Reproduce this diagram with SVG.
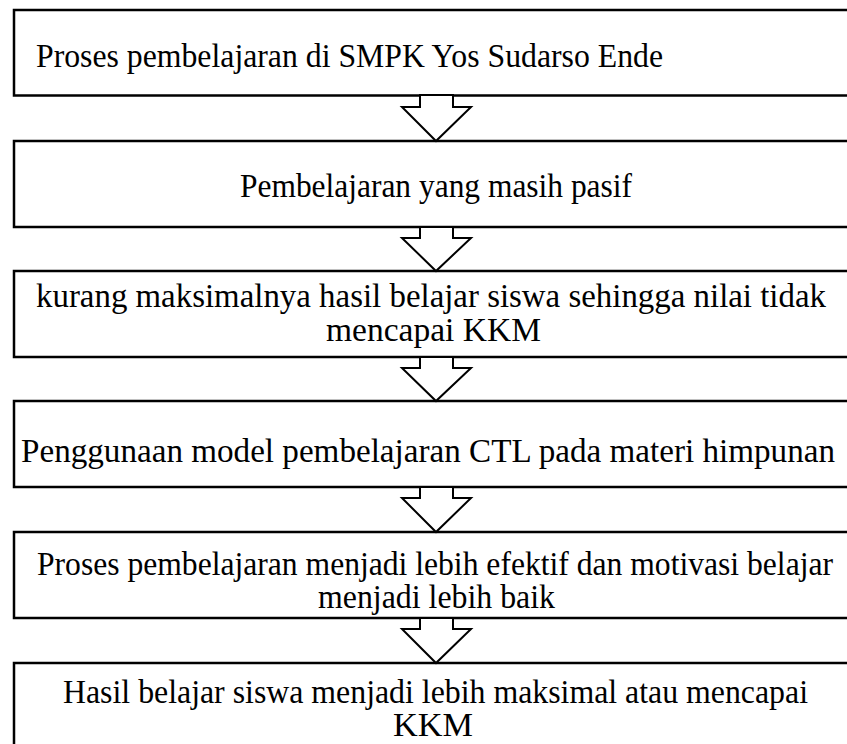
<svg xmlns="http://www.w3.org/2000/svg" width="847" height="744" viewBox="0 0 847 744">
<style>
.box{fill:#fff;stroke:#000;stroke-width:2.5}
.arr{fill:#fff;stroke:#000;stroke-width:2;stroke-linejoin:miter}
text{font-family:"Liberation Serif","Times New Roman",serif;font-size:33px;fill:#000}
</style>
<rect width="847" height="744" fill="#fff"/>
<g id="n1"><rect class="box" x="14" y="10" width="850" height="85.5"/><text x="36" y="67" textLength="627" lengthAdjust="spacingAndGlyphs">Proses pembelajaran di SMPK Yos Sudarso Ende</text></g>
<g id="n2"><rect class="box" x="14" y="141" width="850" height="86"/><text x="240" y="197" textLength="392" lengthAdjust="spacingAndGlyphs">Pembelajaran yang masih pasif</text></g>
<g id="n3"><rect class="box" x="14" y="271" width="850" height="86"/><text x="36" y="307" textLength="790" lengthAdjust="spacingAndGlyphs">kurang maksimalnya hasil belajar siswa sehingga nilai tidak</text><text x="326" y="341" textLength="215" lengthAdjust="spacingAndGlyphs">mencapai KKM</text></g>
<g id="n4"><rect class="box" x="14" y="401" width="850" height="86"/><text x="21" y="462" textLength="814" lengthAdjust="spacingAndGlyphs">Penggunaan model pembelajaran CTL pada materi himpunan</text></g>
<g id="n5"><rect class="box" x="14" y="532" width="850" height="86"/><text x="37" y="575" textLength="796" lengthAdjust="spacingAndGlyphs">Proses pembelajaran menjadi lebih efektif dan motivasi belajar</text><text x="318" y="608" textLength="237" lengthAdjust="spacingAndGlyphs">menjadi lebih baik</text></g>
<g id="n6"><rect class="box" x="14" y="663" width="850" height="100"/><text x="63" y="703" textLength="745" lengthAdjust="spacingAndGlyphs">Hasil belajar siswa menjadi lebih maksimal atau mencapai</text><text x="393" y="736" textLength="80" lengthAdjust="spacingAndGlyphs">KKM</text></g>
<g id="connectors">
<polygon class="arr" points="420,95 453,95 453,107 471,107 436,141 402,107 420,107"/>
<polygon class="arr" points="420,227 453,227 453,238 471,238 436,271 402,238 420,238"/>
<polygon class="arr" points="420,357 453,357 453,368 471,368 436,401 402,368 420,368"/>
<polygon class="arr" points="420,487 453,487 453,498 471,498 436,532 402,498 420,498"/>
<polygon class="arr" points="420,618 453,618 453,629 471,629 436,663 402,629 420,629"/>
</g>
</svg>
